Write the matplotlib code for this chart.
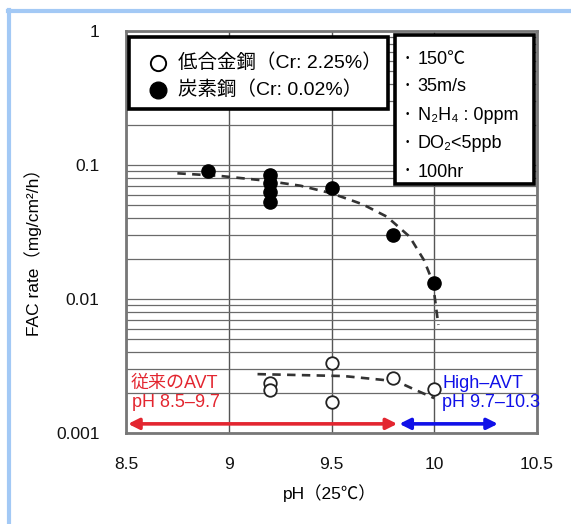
import matplotlib
matplotlib.use("Agg")
import matplotlib.pyplot as plt
from matplotlib.patches import Rectangle
from matplotlib.lines import Line2D
from matplotlib.ticker import FixedLocator, LogLocator, NullFormatter

plt.rcParams['font.family'] = ['Liberation Sans', 'Noto Sans CJK JP', 'DejaVu Sans']

# ---- data ----
carbon_ph = [8.9, 9.2, 9.2, 9.2, 9.2, 9.5, 9.8, 10.0]
carbon_rate = [0.090, 0.084, 0.073, 0.063, 0.053, 0.067, 0.030, 0.0131]

alloy_ph = [9.2, 9.2, 9.5, 9.5, 9.8, 10.0]
alloy_rate = [0.00238, 0.00209, 0.00335, 0.00171, 0.00256, 0.00212]

carbon_trend_ph = [8.75, 8.96, 9.18, 9.35, 9.5, 9.65, 9.77, 9.88, 9.95, 9.98, 10.0, 10.02]
carbon_trend_rate = [0.0867, 0.0828, 0.0764, 0.070, 0.0615, 0.051, 0.0411, 0.0292, 0.0195, 0.0150, 0.0110, 0.0064]

alloy_trend_ph = [9.14, 9.56, 9.75, 9.83, 9.91, 10.0]
alloy_trend_rate = [0.00275, 0.00266, 0.00249, 0.00238, 0.00209, 0.00182]

conv_range = [8.51, 9.82]
high_range = [9.83, 10.31]
arrow_level = 0.00117

x_ticks = [8.5, 9, 9.5, 10, 10.5]
x_tick_labels = ['8.5', '9', '9.5', '10', '10.5']
y_ticks = [0.001, 0.01, 0.1, 1]
y_tick_labels = ['0.001', '0.01', '0.1', '1']

legend_labels = ['低合金鋼（Cr: 2.25%）', '炭素鋼（Cr: 0.02%）']
conditions = ['150℃', '35m/s', 'N₂H₄ : 0ppm', 'DO₂<5ppb', '100hr']

# ---- figure ----
W, H = 571, 524
fig = plt.figure(figsize=(W / 100, H / 100), dpi=100)
ax = fig.add_axes([126 / W, 1 - 433 / H, 411 / W, 402 / H])

ax.set_yscale('log')
ax.set_xlim(8.5, 10.5)
ax.set_ylim(0.001, 1)

ax.xaxis.set_major_locator(FixedLocator(x_ticks))
ax.set_xticklabels(x_tick_labels)
ax.yaxis.set_major_locator(FixedLocator(y_ticks))
ax.set_yticklabels(y_tick_labels)
ax.yaxis.set_minor_locator(LogLocator(base=10, subs=range(2, 10)))
ax.yaxis.set_minor_formatter(NullFormatter())

ax.tick_params(axis='both', which='both', length=0, labelsize=12.5, colors='#111111')
ax.tick_params(axis='y', pad=19)
ax.tick_params(axis='x', pad=17)

ax.grid(True, which='major', axis='x', color='#555555', lw=1.0)
ax.grid(True, which='both', axis='y', color='#6a6a6a', lw=0.9)
ax.set_axisbelow(True)
for s in ax.spines.values():
    s.set_color('#777777')
    s.set_linewidth(2.0)

# trend lines
ax.plot(carbon_trend_ph, carbon_trend_rate, color='#333333', lw=1.9,
        dashes=(3.2, 2.4), zorder=3)
ax.plot(alloy_trend_ph, alloy_trend_rate, color='#333333', lw=1.9,
        dashes=(3.2, 2.4), zorder=3)

# points
ax.plot(carbon_ph, carbon_rate, 'o', color='black', ms=9.5, zorder=4)
ax.plot(alloy_ph, alloy_rate, 'o', mfc='white', mec='#222222', mew=1.3, ms=9, zorder=4)

# range arrows
ax.annotate('', xy=(conv_range[0], arrow_level), xytext=(conv_range[1], arrow_level),
            arrowprops=dict(arrowstyle='<|-|>', color='#e32630', lw=2.6,
                            mutation_scale=16, shrinkA=0, shrinkB=0), zorder=5)
ax.annotate('', xy=(high_range[0], arrow_level), xytext=(high_range[1], arrow_level),
            arrowprops=dict(arrowstyle='<|-|>', color='#1010e8', lw=2.6,
                            mutation_scale=16, shrinkA=0, shrinkB=0), zorder=5)

ax.text(0.010, 0.124, '従来のAVT', transform=ax.transAxes, color='#e32630',
        fontsize=13, ha='left', va='center', zorder=6)
ax.text(0.014, 0.077, 'pH 8.5–9.7', transform=ax.transAxes, color='#e32630',
        fontsize=13, ha='left', va='center', zorder=6)
ax.text(0.769, 0.124, 'High–AVT', transform=ax.transAxes, color='#1010e8',
        fontsize=13, ha='left', va='center', zorder=6)
ax.text(0.769, 0.077, 'pH 9.7–10.3', transform=ax.transAxes, color='#1010e8',
        fontsize=13, ha='left', va='center', zorder=6)

# legend box
ax.add_patch(Rectangle((0.007, 0.806), 0.630, 0.179, transform=ax.transAxes,
                       facecolor='white', edgecolor='black', lw=2.6, zorder=7))
ax.plot([0.078], [0.920], 'o', mfc='white', mec='black', mew=1.4, ms=11,
        transform=ax.transAxes, zorder=8, clip_on=False)
ax.plot([0.078], [0.853], 'o', color='black', ms=12,
        transform=ax.transAxes, zorder=8, clip_on=False)
ax.text(0.127, 0.920, legend_labels[0], transform=ax.transAxes, fontsize=14,
        ha='left', va='center', zorder=8)
ax.text(0.127, 0.853, legend_labels[1], transform=ax.transAxes, fontsize=14,
        ha='left', va='center', zorder=8)

# conditions box
ax.add_patch(Rectangle((0.654, 0.619), 0.339, 0.371, transform=ax.transAxes,
                       facecolor='white', edgecolor='black', lw=2.6, zorder=7))
cond_y = [0.930, 0.861, 0.789, 0.721, 0.649]
for yy, t in zip(cond_y, conditions):
    ax.text(0.684, yy + 0.004, '•', transform=ax.transAxes, fontsize=7,
            ha='center', va='center', zorder=8)
    ax.text(0.710, yy, t, transform=ax.transAxes, fontsize=13,
            ha='left', va='center', zorder=8)

# axis labels
ax.set_xlabel('pH（25℃）', fontsize=12.5)
ax.xaxis.set_label_coords(0.496, -0.127)
ax.set_ylabel('FAC rate（mg/cm²/h）', fontsize=12.5)
ax.yaxis.set_label_coords(-0.205, 0.46)

# light blue page border (top and left)
fig.add_artist(Line2D([9 / W, 9 / W], [0, 1 - 10 / H], transform=fig.transFigure,
                      color='#a3c9f5', lw=3))
fig.add_artist(Line2D([8 / W, 1], [1 - 11 / H, 1 - 11 / H], transform=fig.transFigure,
                      color='#a3c9f5', lw=3))

fig.savefig('out.png', dpi=100)
